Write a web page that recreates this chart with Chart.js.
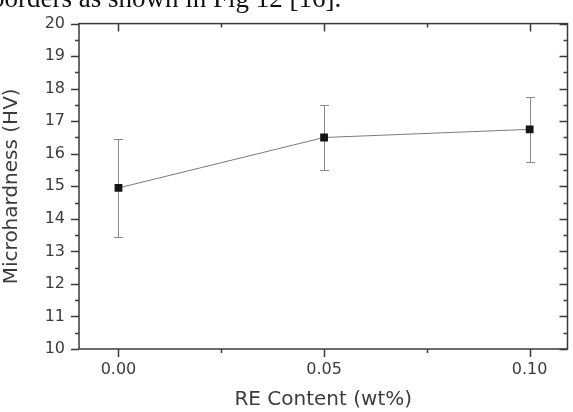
<!DOCTYPE html>
<html>
<head>
<meta charset="utf-8">
<script src="https://cdn.jsdelivr.net/npm/chart.js@4/dist/chart.umd.min.js"></script>
<style>
  html, body { margin: 0; padding: 0; background: #fff; overflow: hidden; }
  #wrap { position: relative; width: 573px; height: 412px; }
  #c { position: absolute; left: 0; top: 0; }
  #caption { position: absolute; left: -9px; top: -15px; line-height: 1; font-family: "Liberation Serif", "Times New Roman", serif; font-size: 27px; color: #111; white-space: nowrap; z-index: 2; }
</style>
</head>
<body>
<div id="wrap">
  <canvas id="c" width="573" height="412"></canvas>
  <div id="caption">borders as shown in Fig 12 [16].</div>
</div>
<script>
// ---- data ----
const reContent = [0.00, 0.05, 0.10];
const microhardness = [14.95, 16.5, 16.75];
const errLow = [13.45, 15.5, 15.75];
const errHigh = [16.45, 17.5, 17.75];
const xTickValues = [0.00, 0.05, 0.10];
const xMinorTickValues = [0.025, 0.075];
const yTickValues = [10, 11, 12, 13, 14, 15, 16, 17, 18, 19, 20];
const xAxisTitle = "RE Content (wt%)";
const yAxisTitle = "Microhardness (HV)";

const FONT = "'DejaVu Sans', sans-serif";
const AXIS_COLOR = "#3a3a3a";
const TEXT_COLOR = "#3c3c3c";

const framePlugin = {
  id: 'framePlugin',
  beforeDatasetsDraw(chart) {
    const ctx = chart.ctx;
    const x = chart.scales.x, y = chart.scales.y;
    ctx.save();
    ctx.strokeStyle = '#8a8a8a';
    ctx.lineWidth = 1;
    for (let i = 0; i < reContent.length; i++) {
      const px = Math.round(x.getPixelForValue(reContent[i])) + 0.5;
      const pl = Math.round(y.getPixelForValue(errLow[i])) + 0.5;
      const ph = Math.round(y.getPixelForValue(errHigh[i])) + 0.5;
      ctx.beginPath();
      ctx.moveTo(px, pl); ctx.lineTo(px, ph);
      ctx.moveTo(px - 4.5, pl); ctx.lineTo(px + 4.5, pl);
      ctx.moveTo(px - 4.5, ph); ctx.lineTo(px + 4.5, ph);
      ctx.stroke();
    }
    ctx.restore();
  },
  afterDraw(chart) {
    const ctx = chart.ctx;
    const a = chart.chartArea;
    const x = chart.scales.x, y = chart.scales.y;
    ctx.save();
    ctx.strokeStyle = AXIS_COLOR;
    ctx.lineWidth = 1.5;
    ctx.strokeRect(a.left, a.top, a.right - a.left, a.bottom - a.top);
    ctx.beginPath();
    for (let i = 0; i < yTickValues.length; i++) {
      const v = yTickValues[i];
      const py = Math.round(y.getPixelForValue(v)) + 0.5;
      ctx.moveTo(a.left - 8, py); ctx.lineTo(a.left, py);
      ctx.moveTo(a.right, py); ctx.lineTo(a.right - 8, py);
      if (i < yTickValues.length - 1) {
        const pm = Math.round(y.getPixelForValue((v + yTickValues[i + 1]) / 2)) + 0.5;
        ctx.moveTo(a.left - 4, pm); ctx.lineTo(a.left, pm);
        ctx.moveTo(a.right, pm); ctx.lineTo(a.right - 4, pm);
      }
    }
    xTickValues.forEach(v => {
      const px = Math.round(x.getPixelForValue(v)) + 0.5;
      ctx.moveTo(px, a.bottom); ctx.lineTo(px, a.bottom + 8);
      ctx.moveTo(px, a.top); ctx.lineTo(px, a.top + 8);
    });
    xMinorTickValues.forEach(v => {
      const px = Math.round(x.getPixelForValue(v)) + 0.5;
      ctx.moveTo(px, a.bottom); ctx.lineTo(px, a.bottom + 4);
      ctx.moveTo(px, a.top); ctx.lineTo(px, a.top + 4);
    });
    ctx.stroke();
    ctx.restore();
  }
};

new Chart(document.getElementById('c'), {
  type: 'line',
  data: {
    datasets: [{
      data: reContent.map((v, i) => ({ x: v, y: microhardness[i] })),
      borderColor: '#7a7a7a',
      borderWidth: 1,
      pointStyle: 'rect',
      pointRadius: 5.5,
      pointBackgroundColor: '#151515',
      pointBorderColor: '#151515',
      pointBorderWidth: 0,
      tension: 0,
      fill: false
    }]
  },
  options: {
    responsive: false,
    animation: false,
    devicePixelRatio: 1,
    layout: { padding: { top: 19, right: 2, left: 0, bottom: 0 } },
    plugins: { legend: { display: false }, tooltip: { enabled: false } },
    scales: {
      x: {
        type: 'linear',
        min: -0.0096,
        max: 0.1092,
        afterBuildTicks(scale) { scale.ticks = xTickValues.map(v => ({ value: v })); },
        afterFit(scale) { scale.height = 63; },
        grid: { display: false, drawTicks: false },
        border: { display: false },
        ticks: {
          padding: 11,
          color: TEXT_COLOR,
          font: { family: FONT, size: 16 },
          callback: v => v.toFixed(2),
          maxRotation: 0
        },
        title: {
          display: true,
          text: xAxisTitle,
          color: TEXT_COLOR,
          font: { family: FONT, size: 20 },
          padding: { top: 10, bottom: 0 }
        }
      },
      y: {
        min: 10,
        max: 20,
        afterBuildTicks(scale) { scale.ticks = yTickValues.map(v => ({ value: v })); },
        afterFit(scale) { scale.width = 79; },
        grid: { display: false, drawTicks: false },
        border: { display: false },
        ticks: {
          padding: 14,
          color: TEXT_COLOR,
          font: { family: FONT, size: 16 },
          callback: v => String(v)
        },
        title: {
          display: true,
          text: yAxisTitle,
          color: TEXT_COLOR,
          font: { family: FONT, size: 20 },
          padding: { top: 0, bottom: 2 }
        }
      }
    }
  },
  plugins: [framePlugin]
});
</script>
</body>
</html>
